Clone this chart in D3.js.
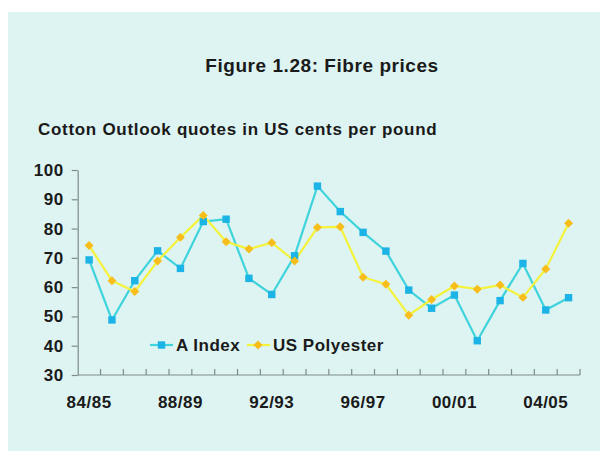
<!DOCTYPE html>
<html><head><meta charset="utf-8">
<script src="https://cdn.jsdelivr.net/npm/d3@7"></script>
<style>html,body{margin:0;padding:0;background:#fff;}svg{display:block;}</style>
</head><body>
<script>
const categories = ["84/85","85/86","86/87","87/88","88/89","89/90","90/91","91/92","92/93","93/94","94/95","95/96","96/97","97/98","98/99","99/00","00/01","01/02","02/03","03/04","04/05","05/06"];
const aIndex = [69.3,48.8,62.2,72.4,66.4,82.4,83.2,63.0,57.5,70.7,94.5,85.8,78.7,72.3,59.0,52.8,57.3,41.7,55.4,68.1,52.2,56.4];
const usPolyester = [74.2,62.2,58.5,68.9,77.0,84.5,75.5,73.0,75.2,68.9,80.4,80.6,63.4,61.0,50.4,55.8,60.4,59.3,60.7,56.5,66.2,81.8];
const yTicks = [30,40,50,60,70,80,90,100];
const xLabels = ["84/85","88/89","92/93","96/97","00/01","04/05"];

(function(){
const W = 600, H = 454;
const svg = d3.select("body").append("svg").attr("width", W).attr("height", H);
svg.append("rect").attr("x",8).attr("y",12).attr("width",W-8).attr("height",439).attr("fill","#ddf4f2");

const font = "Liberation Sans, Arial, Helvetica, sans-serif";
const txt = "#1a1a1a";
svg.append("text").attr("x",322).attr("y",72).attr("text-anchor","middle")
  .attr("font-family",font).attr("font-weight","bold").attr("font-size",19).attr("letter-spacing",0.55).attr("fill",txt)
  .text("Figure 1.28: Fibre prices");
svg.append("text").attr("x",38).attr("y",135)
  .attr("font-family",font).attr("font-weight","bold").attr("font-size",17).attr("letter-spacing",0.7).attr("fill",txt)
  .text("Cotton Outlook quotes in US cents per pound");

const pl = 77.7, pr = 580, pt = 170, pb = 375;
const x = d3.scaleBand().domain(categories).range([pl, pr]).paddingInner(0).paddingOuter(0);
const y = d3.scaleLinear().domain([30,100]).range([pb, pt]);
const cx = d => x(d) + x.bandwidth()/2;

// y axis
const yAxis = svg.append("g").attr("transform",`translate(${pl},0)`)
  .call(d3.axisLeft(y).tickValues(yTicks).tickSize(6).tickPadding(8).tickSizeOuter(0));
yAxis.select(".domain").attr("stroke","#7f8c8a").attr("stroke-width",1.2);
yAxis.selectAll(".tick line").attr("stroke","#7f8c8a").attr("stroke-width",1.2);
yAxis.selectAll("text").attr("font-family",font).attr("font-weight","bold").attr("font-size",17).attr("letter-spacing",0.5).attr("fill",txt);

// x axis
const boundaries = categories.map(c => x(c)).concat([pr]).slice(1);
const xg = svg.append("g");
xg.append("line").attr("x1",pl).attr("x2",pr).attr("y1",pb).attr("y2",pb)
  .attr("stroke","#7f8c8a").attr("stroke-width",1.2);
xg.selectAll("line.tk").data(boundaries).enter().append("line").attr("class","tk")
  .attr("x1",d=>d).attr("x2",d=>d).attr("y1",pb).attr("y2",pb-6)
  .attr("stroke","#7f8c8a").attr("stroke-width",1.2);
xg.selectAll("text").data(xLabels).enter().append("text")
  .attr("x",d=>cx(d)).attr("y",408).attr("text-anchor","middle")
  .attr("font-family",font).attr("font-weight","bold").attr("font-size",17).attr("letter-spacing",0.5).attr("fill",txt)
  .text(d=>d);

const lineGen = vals => d3.line().x((d,i)=>cx(categories[i])).y(d=>y(d))(vals);

svg.append("path").attr("d", lineGen(aIndex)).attr("fill","none").attr("stroke","#3fd3dc").attr("stroke-width",2.2);
svg.append("path").attr("d", lineGen(usPolyester)).attr("fill","none").attr("stroke","#f4f23a").attr("stroke-width",2.2);

const sq = d3.symbol().type(d3.symbolSquare).size(55);
const dm = d3.symbol().type(d3.symbolSquare).size(40);
svg.selectAll("path.a").data(aIndex).enter().append("path").attr("class","a")
  .attr("d", sq).attr("transform",(d,i)=>`translate(${cx(categories[i])},${y(d)})`).attr("fill","#1cb4e6");
svg.selectAll("path.p").data(usPolyester).enter().append("path").attr("class","p")
  .attr("d", dm).attr("transform",(d,i)=>`translate(${cx(categories[i])},${y(d)}) rotate(45)`).attr("fill","#f7bd1a");

// legend
const lg = svg.append("g");
const ly = 345;
lg.append("line").attr("x1",150).attr("x2",173).attr("y1",ly).attr("y2",ly).attr("stroke","#3fd3dc").attr("stroke-width",2.2);
lg.append("path").attr("d",sq).attr("transform",`translate(161.5,${ly})`).attr("fill","#1cb4e6");
lg.append("text").attr("x",176).attr("y",ly+6).attr("font-family",font).attr("font-weight","bold").attr("font-size",17).attr("letter-spacing",0.5).attr("fill",txt).text("A Index");
lg.append("line").attr("x1",247).attr("x2",270).attr("y1",ly).attr("y2",ly).attr("stroke","#f4f23a").attr("stroke-width",2.2);
lg.append("path").attr("d",dm).attr("transform",`translate(258,${ly}) rotate(45)`).attr("fill","#f7bd1a");
lg.append("text").attr("x",273).attr("y",ly+6).attr("font-family",font).attr("font-weight","bold").attr("font-size",17).attr("letter-spacing",0.5).attr("fill",txt).text("US Polyester");
})();
</script>
</body></html>
